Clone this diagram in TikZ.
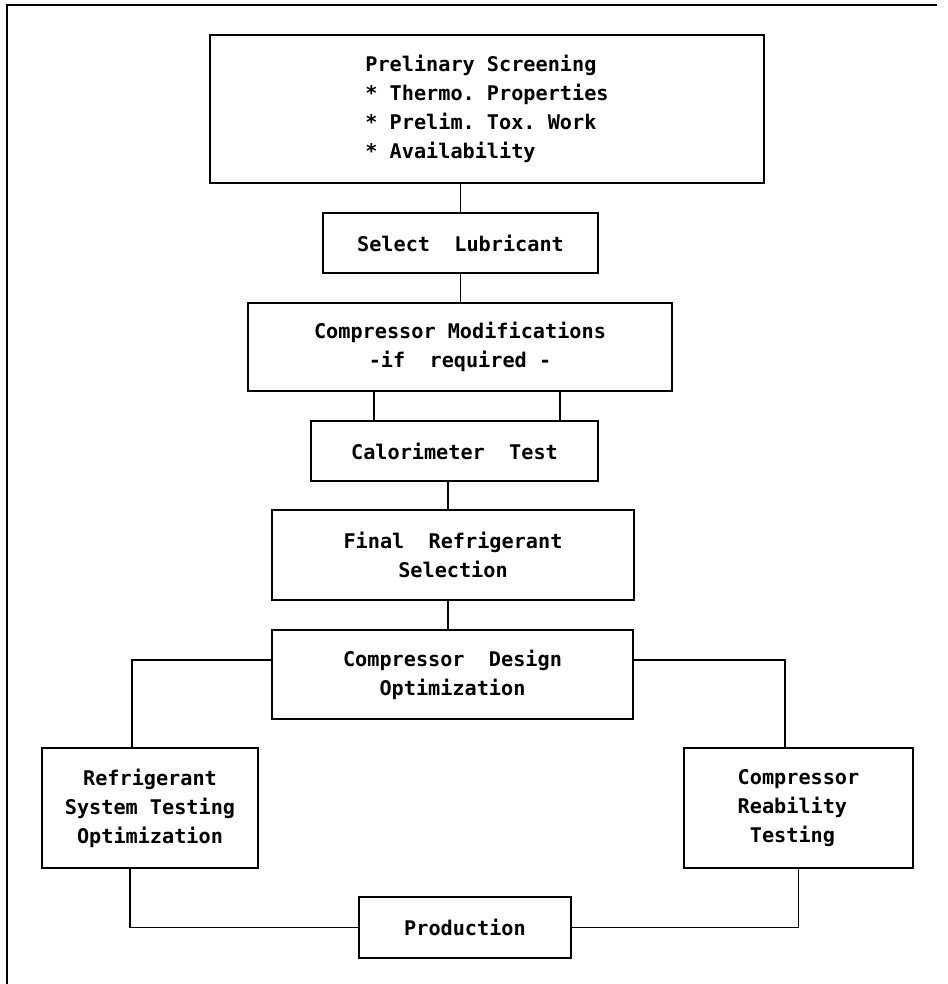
\documentclass[tikz,border=0pt]{standalone}
\usepackage{fontspec}
\setmonofont{DejaVu Sans Mono}
\tikzset{
  stage/.style={draw, line width=1.1pt, align=center, inner sep=2pt,
    font=\ttfamily\bfseries\fontsize{11.5}{16.5}\selectfont},
  link/.style={line width=1.1pt}
}
\begin{document}
\begin{tikzpicture}[x=0.02cm,y=-0.02cm]
\useasboundingbox (0,0) rectangle (947,984);
\draw[line width=1pt] (7,984) -- (7,5) -- (937,5);

\node[stage, align=left, minimum width=11.08cm, minimum height=2.96cm] (screen) at (487,109)
  {Prelinary Screening\\* Thermo. Properties\\* Prelim. Tox. Work\\* Availability};
\node[stage, minimum width=5.5cm, minimum height=1.2cm] (lube) at (460.5,243) {Select\ \ Lubricant};
\node[stage, minimum width=8.48cm, minimum height=1.76cm] (modif) at (460,347)
  {Compressor Modifications\\-if\ \ required -};
\node[stage, minimum width=5.74cm, minimum height=1.2cm] (calor) at (454.5,451) {Calorimeter\ \ Test};
\node[stage, minimum width=7.24cm, minimum height=1.8cm] (final) at (453,555)
  {Final\ \ Refrigerant\\Selection};
\node[stage, minimum width=7.22cm, minimum height=1.78cm] (design) at (452.5,674.5)
  {Compressor\ \ Design\\Optimization};
\node[stage, minimum width=4.32cm, minimum height=2.4cm] (systest) at (150,808)
  {Refrigerant\\System Testing\\Optimization};
\node[stage, align=left, minimum width=4.58cm, minimum height=2.4cm] (reliab) at (798.5,808)
  {Compressor\\Reability\\\ Testing};
\node[stage, minimum width=4.24cm, minimum height=1.22cm] (prod) at (465,927.5) {Production};

\draw[link] (screen.south -| lube.north) -- (lube.north);
\draw[link] (lube.south) -- (lube.south |- modif.north);
\draw[link] ([xshift=-1.72cm]modif.south) -- ([xshift=-1.72cm]modif.south |- calor.north);
\draw[link] ([xshift=2cm]modif.south) -- ([xshift=2cm]modif.south |- calor.north);
\draw[link] ([xshift=-0.13cm]calor.south) -- ([xshift=-0.13cm]calor.south |- final.north);
\draw[link] ([xshift=-0.1cm]final.south) -- ([xshift=-0.1cm]final.south |- design.north);
\draw[link] ([yshift=0.29cm]design.west) -| ([xshift=-0.36cm]systest.north);
\draw[link] ([yshift=0.29cm]design.east) -| ([xshift=-0.27cm]reliab.north);
\draw[link] ([xshift=-0.4cm]systest.south) |- (prod.west);
\draw[link] (reliab.south) |- (prod.east);
\end{tikzpicture}
\end{document}
